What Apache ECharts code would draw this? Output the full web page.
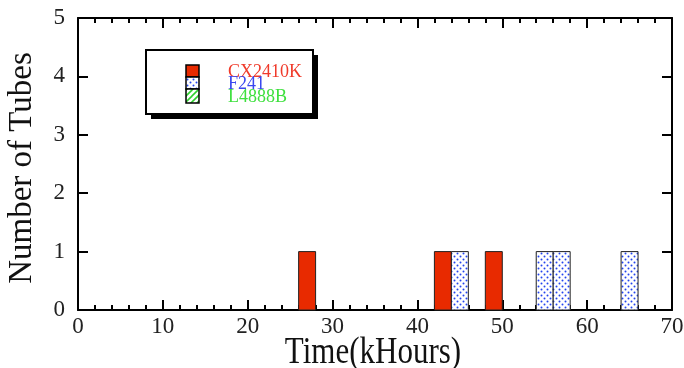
<!DOCTYPE html>
<html><head><meta charset="utf-8">
<script src="https://cdn.jsdelivr.net/npm/echarts@6/dist/echarts.min.js"></script>
<style>html,body{margin:0;padding:0;background:#fff}#c{width:684px;height:368px}</style>
</head><body><div id="c"></div>
<script>
// Data: histogram bins [start kHours, end kHours, count]
const seriesNames = ['CX2410K', 'F241', 'L4888B'];
const cx2410k = [[26, 28, 1], [42, 44, 1], [48, 50, 1]];
const f241 = [[44, 46, 1], [54, 56, 1], [56, 58, 1], [64, 66, 1]];
const l4888b = [];
const xTicks = [0, 10, 20, 30, 40, 50, 60, 70];
const yTicks = [0, 1, 2, 3, 4, 5];
const xTitle = 'Time(kHours)';
const yTitle = 'Number of Tubes';

function makeDots() {
  const c = document.createElement('canvas'); c.width = 6; c.height = 6;
  const g = c.getContext('2d'); g.fillStyle = '#fff'; g.fillRect(0, 0, 6, 6);
  g.fillStyle = '#2244ee';
  g.beginPath(); g.arc(1.5, 1.5, 1.0, 0, Math.PI * 2); g.fill();
  g.beginPath(); g.arc(4.5, 4.5, 1.0, 0, Math.PI * 2); g.fill();
  return c;
}
function makeStripes() {
  const c = document.createElement('canvas'); c.width = 6; c.height = 6;
  const g = c.getContext('2d'); g.fillStyle = '#fff'; g.fillRect(0, 0, 6, 6);
  g.strokeStyle = '#2fd12f'; g.lineWidth = 1.6;
  g.beginPath(); g.moveTo(0, 6); g.lineTo(6, 0); g.stroke();
  g.beginPath(); g.moveTo(-3, 3); g.lineTo(3, -3); g.stroke();
  g.beginPath(); g.moveTo(3, 9); g.lineTo(9, 3); g.stroke();
  return c;
}
const redFill = '#e82a00';
const dotFill = { image: makeDots(), repeat: 'repeat' };
const stripeFill = { image: makeStripes(), repeat: 'repeat' };
const fills = [redFill, dotFill, stripeFill];

function renderBin(fill) {
  return function (params, api) {
    const p0 = api.coord([api.value(0), 0]);
    const p1 = api.coord([api.value(1), api.value(2)]);
    return {
      type: 'rect',
      shape: { x: p0[0], y: p1[1], width: p1[0] - p0[0], height: p0[1] - p1[1] },
      style: { fill: fill, stroke: '#222', lineWidth: 1 }
    };
  };
}

const font = 'Liberation Serif';
const axisLine = { show: true, onZero: false, lineStyle: { color: '#000', width: 2 } };
function xAx(pos, labels) {
  return {
    type: 'value', position: pos, min: 0, max: 70, interval: 10,
    axisLine: axisLine,
    axisTick: { show: true, inside: true, length: 10, lineStyle: { color: '#000', width: 2 } },
    minorTick: { show: true, splitNumber: 5, length: 5, lineStyle: { color: '#000', width: 2 } },
    splitLine: { show: false },
    axisLabel: { show: labels, fontFamily: font, fontSize: 23, color: '#222', margin: 5 }
  };
}
function yAx(pos, labels) {
  return {
    type: 'value', position: pos, min: 0, max: 5, interval: 1,
    axisLine: axisLine,
    axisTick: { show: true, inside: true, length: 10, lineStyle: { color: '#000', width: 2 } },
    splitLine: { show: false },
    axisLabel: { show: labels, fontFamily: font, fontSize: 23, color: '#222', margin: 13 }
  };
}

const legendTexts = [
  { text: seriesNames[0], color: '#f03a2a', y: 72 },
  { text: seriesNames[1], color: '#3a48f0', y: 84 },
  { text: seriesNames[2], color: '#3ee03e', y: 97 }
];

const chart = echarts.init(document.getElementById('c'), null, { renderer: 'canvas' });
chart.setOption({
  animation: false,
  grid: { left: 78, right: 12, top: 18, bottom: 58, containLabel: false, outerBoundsMode: 'none' },
  xAxis: [xAx('bottom', true), xAx('top', false)],
  yAxis: [yAx('left', true), yAx('right', false)],
  series: [
    { type: 'custom', name: seriesNames[0], renderItem: renderBin(fills[0]), data: cx2410k, encode: { x: [0, 1], y: 2 } },
    { type: 'custom', name: seriesNames[1], renderItem: renderBin(fills[1]), data: f241, encode: { x: [0, 1], y: 2 } },
    { type: 'custom', name: seriesNames[2], renderItem: renderBin(fills[2]), data: l4888b, encode: { x: [0, 1], y: 2 } }
  ],
  graphic: [
    { type: 'text', x: 373, y: 353, scaleY: 1.2, z: 5,
      style: { text: xTitle, fill: '#111', font: '31px "Liberation Serif"', textAlign: 'center', textVerticalAlign: 'middle', align: 'center', verticalAlign: 'middle' } },
    { type: 'text', x: 22, y: 168, rotation: Math.PI / 2, z: 5,
      style: { text: yTitle, fill: '#111', font: '33px "Liberation Serif"', textAlign: 'center', textVerticalAlign: 'middle', align: 'center', verticalAlign: 'middle' } },
    { type: 'rect', shape: { x: 151, y: 55, width: 167, height: 64 }, style: { fill: '#000' }, z: 10 },
    { type: 'rect', shape: { x: 146, y: 50, width: 167, height: 64 }, style: { fill: '#fff', stroke: '#000', lineWidth: 2 }, z: 11 },
    { type: 'rect', shape: { x: 186, y: 65, width: 13, height: 12 }, style: { fill: redFill, stroke: '#000', lineWidth: 1.5 }, z: 12 },
    { type: 'rect', shape: { x: 186, y: 77, width: 13, height: 12 }, style: { fill: dotFill, stroke: '#000', lineWidth: 1.5 }, z: 12 },
    { type: 'rect', shape: { x: 186, y: 89, width: 13, height: 14 }, style: { fill: stripeFill, stroke: '#000', lineWidth: 1.5 }, z: 12 }
  ].concat(legendTexts.map(t => ({
    type: 'text', x: 228, y: t.y, z: 13,
    style: { text: t.text, fill: t.color, font: '18px "Liberation Serif"', textVerticalAlign: 'middle', verticalAlign: 'middle' }
  })))
});
</script></body></html>
